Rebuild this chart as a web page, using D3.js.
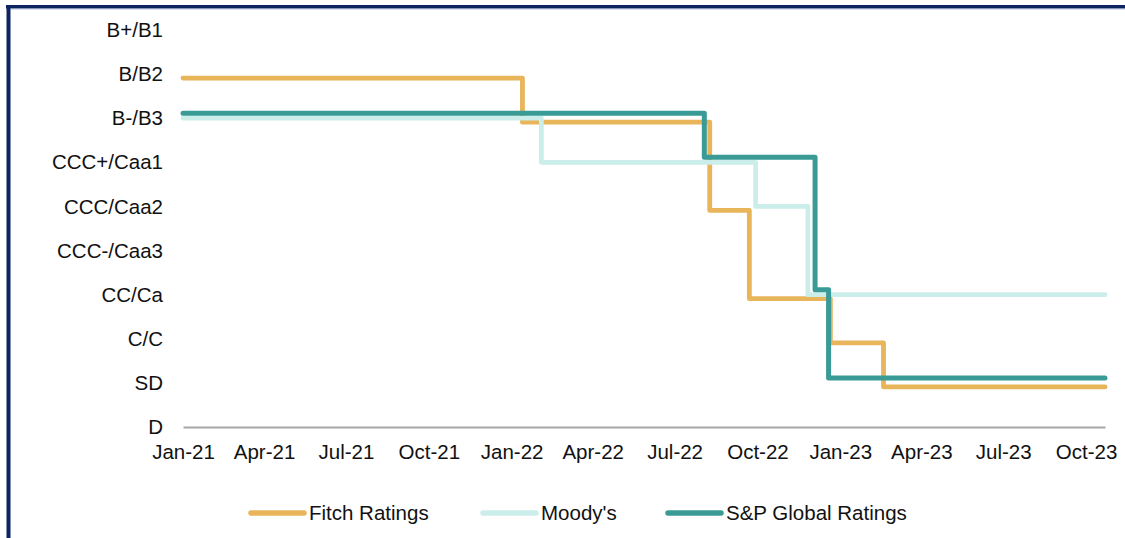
<!DOCTYPE html>
<html>
<head>
<meta charset="utf-8">
<script src="https://cdn.jsdelivr.net/npm/d3@7"></script>
<style>
  html, body { margin: 0; padding: 0; background: #ffffff; }
  svg { display: block; font-family: "Liberation Sans", Arial, sans-serif; }
</style>
</head>
<body>
<svg id="chart" width="1125" height="538"></svg>
<script>
// ---- Data ----
const ratingLevels = ["D", "SD", "C/C", "CC/Ca", "CCC-/Caa3", "CCC/Caa2", "CCC+/Caa1", "B-/B3", "B/B2", "B+/B1"];
const xTickLabels = ["Jan-21","Apr-21","Jul-21","Oct-21","Jan-22","Apr-22","Jul-22","Oct-22","Jan-23","Apr-23","Jul-23","Oct-23"];
const seriesNames = ["Fitch Ratings", "Moody's", "S&P Global Ratings"];

const fitchDates   = ["2021-01-01", "2022-01-13", "2022-08-09", "2022-09-22", "2022-12-21", "2023-02-18", "2023-10-22"];
const fitchRatings = ["B/B2", "B-/B3", "CCC/Caa2", "CC/Ca", "C/C", "SD", "SD"];

const moodysDates   = ["2021-01-01", "2022-02-03", "2022-09-29", "2022-11-26", "2023-10-22"];
const moodysRatings = ["B-/B3", "CCC+/Caa1", "CCC/Caa2", "CC/Ca", "CC/Ca"];

const spDates   = ["2021-01-01", "2022-08-03", "2022-12-04", "2022-12-19", "2023-10-22"];
const spRatings = ["B-/B3", "CCC+/Caa1", "CC/Ca", "SD", "SD"];

// ---- Layout / style ----
const parse = d3.timeParse("%Y-%m-%d");
const fmt = d3.timeFormat("%b-%y");
const svg = d3.select("#chart");
const W = 1125, H = 538;
const plot = { left: 183, right: 1105, top: 30, bottom: 427 };
const fontSize = 20.5;
const textColor = "#111111";

svg.append("rect").attr("width", W).attr("height", H).attr("fill", "#ffffff");

// frame (top and left navy bars)
svg.append("rect").attr("x", 6).attr("y", 5).attr("width", W - 6).attr("height", 3.5).attr("fill", "#0D2461");
svg.append("rect").attr("x", 6.5).attr("y", 5).attr("width", 4).attr("height", H - 5).attr("fill", "#0D2461");
svg.append("rect").attr("x", 10.5).attr("y", 8.5).attr("width", W - 10.5).attr("height", 0.8).attr("fill", "#8C9CC4");

const x = d3.scaleTime()
  .domain([parse("2021-01-01"), parse("2023-10-22")])
  .range([plot.left, plot.right]);

const y = d3.scalePoint()
  .domain(ratingLevels)
  .range([plot.bottom, plot.top])
  .padding(0);

// x axis
const tickDates = xTickLabels.map(s => d3.timeParse("%b-%y")(s));
const xAxis = d3.axisBottom(x)
  .tickValues(tickDates)
  .tickFormat(fmt)
  .tickSize(0)
  .tickSizeOuter(0)
  .tickPadding(16);
const gx = svg.append("g").attr("transform", `translate(0,${plot.bottom})`).call(xAxis);
gx.select(".domain").attr("stroke", "#A6A6A6").attr("stroke-width", 2);
gx.selectAll("text").attr("font-size", fontSize).attr("fill", textColor)
  .attr("font-family", "Liberation Sans, Arial, sans-serif").attr("dy", "0.71em").attr("y", 17);

// y axis
const yAxis = d3.axisLeft(y).tickSize(0).tickPadding(20);
const gy = svg.append("g").attr("transform", `translate(${plot.left},0)`).call(yAxis);
gy.select(".domain").remove();
gy.selectAll("text").attr("font-size", fontSize).attr("fill", textColor)
  .attr("font-family", "Liberation Sans, Arial, sans-serif");

// series
const series = [
  { name: seriesNames[0], dates: fitchDates,  ratings: fitchRatings,  color: "#E8B55B", offset: 4,  width: 4.8 },
  { name: seriesNames[1], dates: moodysDates, ratings: moodysRatings, color: "#CCEEEB", offset: 0,  width: 4.8 },
  { name: seriesNames[2], dates: spDates,     ratings: spRatings,     color: "#3A9A96", offset: -5, width: 5 }
];

series.forEach(s => {
  const pts = s.dates.map((d, i) => ({ date: parse(d), rating: s.ratings[i] }));
  const line = d3.line()
    .x(d => x(d.date))
    .y(d => y(d.rating) + s.offset)
    .curve(d3.curveStepAfter);
  svg.append("path")
    .datum(pts)
    .attr("d", line)
    .attr("fill", "none")
    .attr("stroke", s.color)
    .attr("stroke-width", s.width)
    .attr("stroke-linejoin", "round")
    .attr("stroke-linecap", "round");
});

// legend
const legendItems = [
  { x1: 251, x2: 304, tx: 309 },
  { x1: 483, x2: 536, tx: 541 },
  { x1: 668, x2: 721, tx: 726 }
];
const legendY = 513;
series.forEach((s, i) => {
  const L = legendItems[i];
  svg.append("line")
    .attr("x1", L.x1).attr("x2", L.x2).attr("y1", legendY).attr("y2", legendY)
    .attr("stroke", s.color).attr("stroke-width", 5.5).attr("stroke-linecap", "round");
  svg.append("text")
    .attr("x", L.tx).attr("y", legendY + 7)
    .attr("font-size", fontSize).attr("fill", textColor)
    .text(s.name);
});
</script>
</body>
</html>
